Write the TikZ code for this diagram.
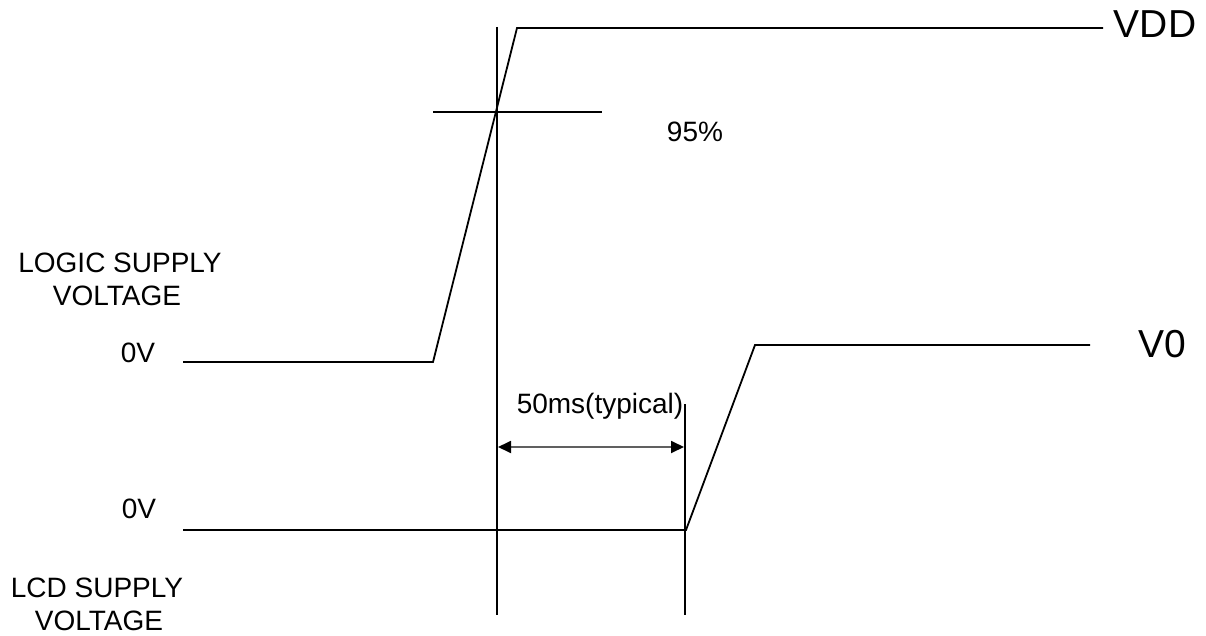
\documentclass[tikz,border=0pt]{standalone}
\usepackage{fontspec}
\setmainfont{Liberation Sans}
\usetikzlibrary{arrows.meta}
\begin{document}
\begin{tikzpicture}[x=1pt,y=-1pt,
  wire/.style={line width=1.8pt,line join=miter},
  lbl/.style={inner sep=0pt,anchor=base,font=\fontsize{28}{30}\selectfont},
  big/.style={inner sep=0pt,anchor=base,font=\fontsize{39}{41}\selectfont},
  tip/.tip={Triangle[length=13pt,width=12pt,fill=black,color=black]},
  dim/.style={line width=1.8pt,draw=gray!75!black,tip-tip}]
\useasboundingbox (0,0) rectangle (1206,636);
% logic supply signal
\coordinate (l0) at (183,362);
\coordinate (l1) at (433,362);
\coordinate (l2) at (517,28);
\coordinate (l3) at (1103,28);
\draw[wire] (l0) -- (l1) -- (l2) -- (l3);
% LCD supply signal
\coordinate (c0) at (183,530);
\coordinate (c1) at (686,530);
\coordinate (c2) at (755,345);
\coordinate (c3) at (1090,345);
\draw[wire] (c0) -- (c1) -- (c2) -- (c3);
% vertical markers
\coordinate (v1t) at (497,27);
\coordinate (v1b) at (497,615);
\coordinate (v2t) at (685,404);
\coordinate (v2b) at (685,615);
\draw[wire] (v1t) -- (v1b);
\draw[wire] (v2t) -- (v2b);
% 95% crosshair
\coordinate (h0) at (433,112);
\coordinate (h1) at (602,112);
\draw[wire] (h0) -- (h1);
% dimension arrow
\coordinate (a0) at (498,447);
\coordinate (a1) at (684,447);
\draw[dim] (a0) -- (a1);
% labels
\node[big] (vdd) at (1155,38) {VDD};
\node[big] (v0) at (1162,357) {V0};
\node[lbl] (pct) at (695,142) {95\%};
\node[lbl] (ls1) at (120,272) {LOGIC SUPPLY};
\node[lbl] (ls2) at (117,305) {VOLTAGE};
\node[lbl] (z1) at (138,362) {0V};
\node[lbl] (typ) at (600,413) {50ms(typical)};
\node[lbl] (z2) at (139,518) {0V};
\node[lbl] (cs1) at (97,597) {LCD SUPPLY};
\node[lbl] (cs2) at (99,630) {VOLTAGE};
\end{tikzpicture}
\end{document}
